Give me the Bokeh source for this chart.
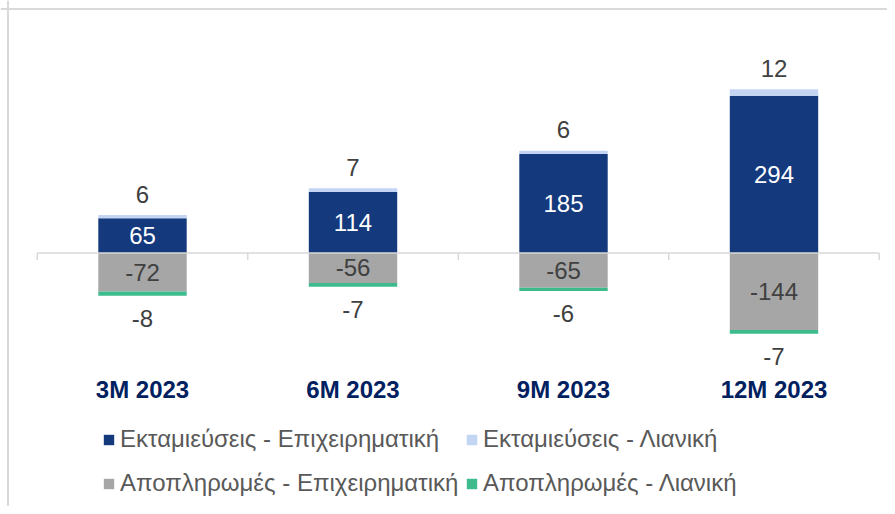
from bokeh.plotting import figure
from bokeh.models import ColumnDataSource, Range1d, Span, Legend, LegendItem
from bokeh.core.properties import value
from bokeh.embed import file_html
from bokeh.resources import INLINE

categories = ["3M 2023", "6M 2023", "9M 2023", "12M 2023"]
disb_business = [65, 114, 185, 294]
disb_retail = [6, 7, 6, 12]
repay_business = [-72, -56, -65, -144]
repay_retail = [-8, -7, -6, -7]

series_names = ["Εκταμιεύσεις - Επιχειρηματική", "Εκταμιεύσεις - Λιανική",
                "Αποπληρωμές - Επιχειρηματική", "Αποπληρωμές - Λιανική"]
colors = ["#14397D", "#C3D5F3", "#A6A6A6", "#3DBB8C"]

W, H = 887, 506
FONT = "Liberation Sans"

x = list(range(len(categories)))
dr_top = [a + b for a, b in zip(disb_business, disb_retail)]
rr_bottom = [a + b for a, b in zip(repay_business, repay_retail)]

src = ColumnDataSource(dict(
    x=x, cat=categories,
    db=disb_business, dr_b=disb_business, dr_t=dr_top,
    rb=repay_business, rr_t=repay_business, rr_b=rr_bottom,
    db_mid=[v / 2 for v in disb_business], rb_mid=[v / 2 for v in repay_business],
    db_lbl=[str(v) for v in disb_business], dr_lbl=[str(v) for v in disb_retail],
    rb_lbl=[str(v) for v in repay_business], rr_lbl=[str(v) for v in repay_retail],
))

step = 210.5     # px per category
ppu = 0.535      # px per unit
x0_px = 142.0    # canvas x of first category
zero_px = 252.5  # canvas y (from top) of zero line

xs, xe = -x0_px / step, (W - x0_px) / step
ys, ye = -(H - zero_px) / ppu, zero_px / ppu
p = figure(width=W, height=H, output_backend="svg", toolbar_location=None,
           x_range=Range1d(xs, xe), y_range=Range1d(ys, ye),
           min_border=0, outline_line_color=None)
p.xaxis.visible = False
p.yaxis.visible = False
p.xgrid.visible = False
p.ygrid.visible = False
p.background_fill_color = "white"
p.border_fill_color = "white"

# chart frame (left and top edges visible)
p.add_layout(Span(location=xs + 7.5 / step, dimension="height", line_color="#D9D9D9", line_width=2))
p.add_layout(Span(location=ye - 8.5 / ppu, dimension="width", line_color="#D9D9D9", line_width=2))

bw = 0.42
r1 = p.vbar(x="x", bottom=0, top="db", width=bw, source=src, fill_color=colors[0], line_color=None)
r2 = p.vbar(x="x", bottom="dr_b", top="dr_t", width=bw, source=src, fill_color=colors[1], line_color=None)
r3 = p.vbar(x="x", bottom="rb", top=0, width=bw, source=src, fill_color=colors[2], line_color=None)
r4 = p.vbar(x="x", bottom="rr_b", top="rr_t", width=bw, source=src, fill_color=colors[3], line_color=None)

# zero axis line with tick marks between categories
n = len(categories)
p.segment(x0=[-0.5], y0=[0], x1=[n - 0.5], y1=[0], line_color="#D9D9D9", line_width=1.5)
ticks = [i - 0.5 for i in range(n + 1)]
p.segment(x0=ticks, y0=[0] * len(ticks), x1=ticks, y1=[-7 / ppu] * len(ticks),
          line_color="#D9D9D9", line_width=1.5)

fs = "24px"
p.text(x="x", y="db_mid", text="db_lbl", source=src, text_color="white",
       text_font=value(FONT), text_font_size=fs, text_align="center", text_baseline="middle")
p.text(x="x", y="rb_mid", text="rb_lbl", source=src, text_color="#404040",
       text_font=value(FONT), text_font_size=fs, text_align="center", text_baseline="middle")
p.text(x="x", y="dr_t", text="dr_lbl", source=src, text_color="#404040", y_offset=-21,
       text_font=value(FONT), text_font_size=fs, text_align="center", text_baseline="middle")
p.text(x="x", y="rr_b", text="rr_lbl", source=src, text_color="#404040", y_offset=23,
       text_font=value(FONT), text_font_size=fs, text_align="center", text_baseline="middle")

# category labels
cat_y = [-(389 - zero_px) / ppu] * n
p.text(x=x, y=cat_y, text=categories, text_color="#002060", text_font=value(FONT),
       text_font_size="24px", text_font_style="bold", text_align="center", text_baseline="middle")

leg_kw = dict(orientation="vertical", border_line_color=None, background_fill_alpha=0,
              glyph_width=13, glyph_height=13, label_standoff=5, spacing=16,
              label_text_font=FONT, label_text_font_size="24px", label_text_color="#595959",
              label_height=27, padding=0, margin=0)
legend1 = Legend(items=[LegendItem(label=series_names[0], renderers=[r1]),
                        LegendItem(label=series_names[2], renderers=[r3])],
                 location=(102, 9), **leg_kw)
legend2 = Legend(items=[LegendItem(label=series_names[1], renderers=[r2]),
                        LegendItem(label=series_names[3], renderers=[r4])],
                 location=(465, 9), **leg_kw)
p.add_layout(legend1, "center")
p.add_layout(legend2, "center")

open("out.html", "w").write(file_html(p, INLINE))
